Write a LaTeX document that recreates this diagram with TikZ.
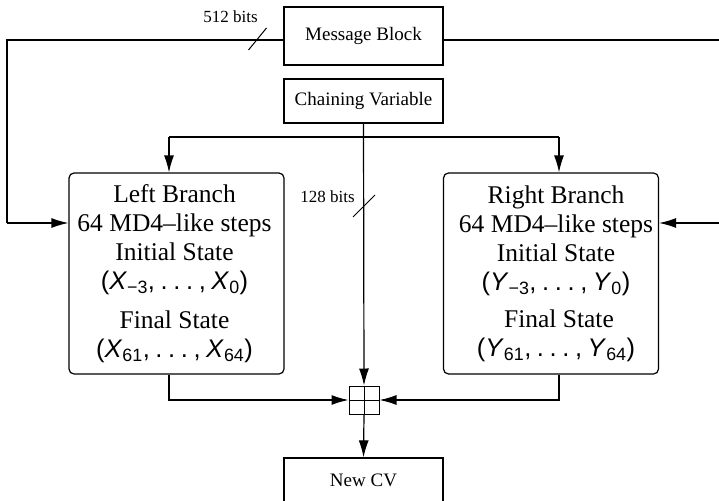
\documentclass[tikz,border=0pt]{standalone}
\usepackage{fontspec}
\setmainfont{Liberation Serif}
\newfontfamily\msans{Liberation Sans}
\usetikzlibrary{arrows.meta}
\newcommand\sv[2]{\textit{#1}\textsubscript{#2}}
\newcommand\dotsp{\hspace{0.22em}}
\newcommand\mytuple[3]{{\msans(\sv{#1}{#2},\dotsp.\dotsp.\dotsp.\dotsp,\dotsp\sv{#1}{#3})}}
\begin{document}
\begin{tikzpicture}[x=1pt,y=-1pt,
  wire/.style={line width=1.2pt},
  arr/.style={wire,-{Latex[length=17pt,width=10pt]}},
  rectbox/.style={draw,line width=1.3pt,inner sep=0pt,font=\fontsize{19}{22}\selectfont},
  branch/.style={draw,line width=1.2pt,rounded corners=5pt,minimum width=215pt,minimum height=201pt,inner sep=0pt},
  btext/.style={align=center,font=\fontsize{25.5}{29}\selectfont,inner sep=0pt},
  bitlabel/.style={font=\fontsize{17}{20}\selectfont,inner sep=0pt,anchor=base east},
  adder/.style={draw,line width=1pt,minimum width=30pt,minimum height=28pt,inner sep=0pt}]
\clip (0,0) rectangle (719,500);
\fill[white] (0,0) rectangle (719,500);
% boxes
\node[rectbox,minimum width=159pt,minimum height=58pt] (msg) at (363.5,36) {Message Block};
\node[rectbox,minimum width=159pt,minimum height=44pt] (cv) at (363.5,101) {Chaining Variable};
\node[rectbox,minimum width=159pt,minimum height=44pt] (newcv) at (363.5,480) {New CV};
\node[branch] (lb) at (176.5,273.5) {};
\node[branch] (rb) at (551,273.5) {};
\node[btext] (lbt) at ([xshift=-2pt]lb.center) {Left Branch\\64 MD4--like steps\\Initial State\\\mytuple{X}{−3}{0}\\[10pt]Final State\\\mytuple{X}{61}{64}};
\node[btext] (rbt) at ([xshift=5pt]rb.center) {Right Branch\\64 MD4--like steps\hspace*{10pt}\\Initial State\\\mytuple{Y}{−3}{0}\\[8pt]\hspace*{6pt}Final State\\\mytuple{Y}{61}{64}};
\node[adder] (plus) at (364,400) {};
\draw[line width=1pt] (plus.north) -- (plus.south) (plus.west) -- (plus.east);
% message block wiring
\coordinate (lcorner) at (7,40);
\coordinate (lin) at (7,223);
\coordinate (rcorner) at (719,40);
\coordinate (rin) at (719,223);
\draw[wire] (msg.west |- lcorner) -- (lcorner) -- (lin);
\draw[arr] (lin) -- (lin -| lb.west);
\draw[wire] (msg.east |- rcorner) -- (rcorner);
\draw[arr] (rin) -- (rin -| rb.east);
\coordinate (s512) at (257.5,39);
\draw[line width=1pt] ([shift={(-9,11)}]s512) -- ([shift={(9,-11)}]s512);
\node[bitlabel] (l512) at (258,23) {512 bits};
% chaining variable wiring
\coordinate (hl) at (169,137);
\coordinate (hr) at (559,137);
\draw[wire] (hl) -- (hr);
\draw[arr] (hl) -- (hl |- lb.north);
\draw[arr] (hr) -- (hr |- rb.north);
\draw[arr] (cv.south) -- (plus.north);
\coordinate (s128) at (364,206);
\draw[line width=1pt] ([shift={(-11,11)}]s128) -- ([shift={(11,-11)}]s128);
\node[bitlabel] (l128) at (355,202) {128 bits};
% outputs
\coordinate (bl) at (169,400);
\coordinate (br) at (559,400);
\draw[arr] (bl |- lb.south) -- (bl) -- (plus.west);
\draw[arr] (br |- rb.south) -- (br) -- (plus.east);
\draw[arr] (plus.south) -- (newcv.north);
\end{tikzpicture}
\end{document}
